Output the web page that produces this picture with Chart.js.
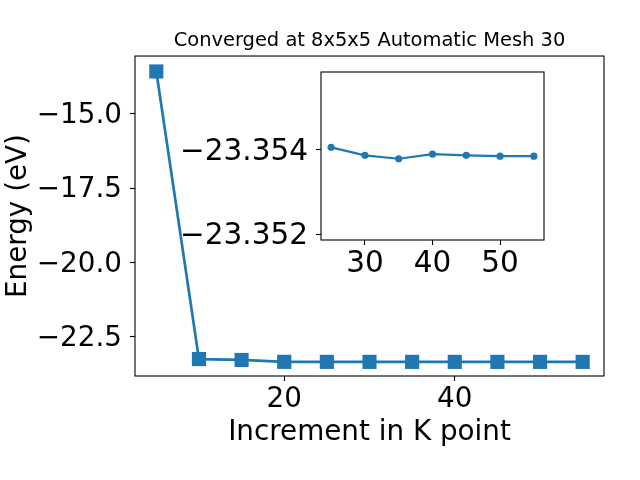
<!DOCTYPE html>
<html><head><meta charset="utf-8">
<script src="https://cdn.jsdelivr.net/npm/chart.js@4/dist/chart.umd.min.js"></script>
<style>
html,body{margin:0;padding:0;background:#fff;}
#wrap{position:relative;width:640px;height:480px;}
canvas{position:absolute;left:0;top:0;}
#inset{pointer-events:none;}
</style>
</head><body>
<div id="wrap"><canvas id="main" width="640" height="480"></canvas><canvas id="inset" width="640" height="480"></canvas></div>
<script>
const kPoints = [5, 10, 15, 20, 25, 30, 35, 40, 45, 50, 55];
const energies = [-13.57, -23.26, -23.29, -23.353, -23.35406, -23.35387, -23.35379, -23.35390, -23.35387, -23.35385, -23.35385];
const insetKPoints = [25, 30, 35, 40, 45, 50, 55];
const insetEnergies = [-23.35406, -23.35387, -23.35379, -23.35390, -23.35387, -23.35385, -23.35385];
const mainXTicks = [20, 40];
const mainYTicks = [-22.5, -20.0, -17.5, -15.0];
const insetXTicks = [30, 40, 50];
const insetYTicks = [-23.354, -23.352];
const titleText = 'Converged at 8x5x5 Automatic Mesh 30';
const xLabel = 'Increment in K point';
const yLabel = 'Energy (eV)';

const BLUE = '#1f77b4';
const FONT = 'DejaVu Sans';
const fmt = (v, d) => v.toFixed(d).replace('-', '\u2212');

const boxPlugin = {
  id: 'box',
  beforeDraw(c) {
    const a = c.chartArea, ctx = c.ctx;
    ctx.save(); ctx.fillStyle = '#fff';
    ctx.fillRect(a.left, a.top, a.right - a.left, a.bottom - a.top);
    ctx.restore();
  },
  afterDraw(c) {
    const a = c.chartArea, ctx = c.ctx;
    ctx.save(); ctx.strokeStyle = '#000'; ctx.lineWidth = 1.1;
    ctx.strokeRect(a.left, a.top, a.right - a.left, a.bottom - a.top);
    ctx.restore();
  }
};

function axis(opts) {
  return Object.assign({
    type: 'linear',
    grid: { drawOnChartArea: false, drawTicks: true, tickLength: 5, tickWidth: 1.1, tickColor: '#000', color: '#000' },
    border: { display: false },
  }, opts);
}

new Chart(document.getElementById('main'), {
  type: 'line',
  data: { datasets: [{
    data: kPoints.map((k, i) => ({ x: k, y: energies[i] })),
    borderColor: BLUE, backgroundColor: BLUE, borderWidth: 2.7,
    pointStyle: 'rect', pointRadius: 10, pointBorderWidth: 0, tension: 0
  }]},
  options: {
    responsive: false, animation: false, devicePixelRatio: 1,
    layout: { padding: { left: 0, right: 36, top: 0, bottom: 0 } },
    plugins: {
      legend: { display: false }, tooltip: { enabled: false },
      title: { display: true, text: titleText, fullSize: false, color: '#000',
        font: { family: FONT, size: 19.44, weight: 'normal', lineHeight: 1.2 },
        padding: { top: 29, bottom: 3.7 } }
    },
    scales: {
      x: axis({
        min: 2.5, max: 57.5,
        afterFit: s => { s.height = 104; },
        afterBuildTicks: s => { s.ticks = mainXTicks.map(v => ({ value: v })); },
        ticks: { color: '#000', font: { family: FONT, size: 27.8 }, padding: 2, maxRotation: 0, autoSkip: false, callback: v => String(v) },
        title: { display: true, text: xLabel, color: '#000', font: { family: FONT, size: 27.8, lineHeight: 1.2 }, padding: { top: 0, bottom: 31 } }
      }),
      y: axis({
        min: -23.83, max: -13.05,
        afterFit: s => { s.width = 135; },
        afterBuildTicks: s => { s.ticks = mainYTicks.map(v => ({ value: v })); },
        ticks: { color: '#000', font: { family: FONT, size: 27.8 }, padding: 8, labelOffset: 2, autoSkip: false, callback: v => fmt(v, 1) },
        title: { display: true, text: yLabel, color: '#000', font: { family: FONT, size: 27.8, lineHeight: 1.2 }, padding: { top: 2, bottom: 0 } }
      })
    }
  },
  plugins: [boxPlugin]
});

new Chart(document.getElementById('inset'), {
  type: 'line',
  data: { datasets: [{
    data: insetKPoints.map((k, i) => ({ x: k, y: insetEnergies[i] })),
    borderColor: BLUE, backgroundColor: BLUE, borderWidth: 2.2,
    pointStyle: 'circle', pointRadius: 3.6, pointBorderWidth: 0, tension: 0
  }]},
  options: {
    responsive: false, animation: false, devicePixelRatio: 1,
    layout: { padding: { left: 0, right: 96, top: 72, bottom: 0 } },
    plugins: { legend: { display: false }, tooltip: { enabled: false }, title: { display: false } },
    scales: {
      x: axis({
        min: 23.5, max: 56.5,
        afterFit: s => { s.height = 240; },
        afterBuildTicks: s => { s.ticks = insetXTicks.map(v => ({ value: v })); },
        ticks: { color: '#000', font: { family: FONT, size: 29.5 }, padding: 2, maxRotation: 0, autoSkip: false, callback: v => String(v) }
      }),
      y: axis({
        min: -23.35585, max: -23.35186, reverse: true,
        afterFit: s => { s.width = 321; },
        afterBuildTicks: s => { s.ticks = insetYTicks.map(v => ({ value: v })); },
        ticks: { color: '#000', font: { family: FONT, size: 29.5 }, padding: 8, labelOffset: 2, autoSkip: false, callback: v => fmt(v, 3) }
      })
    }
  },
  plugins: [boxPlugin]
});
</script>
</body></html>
